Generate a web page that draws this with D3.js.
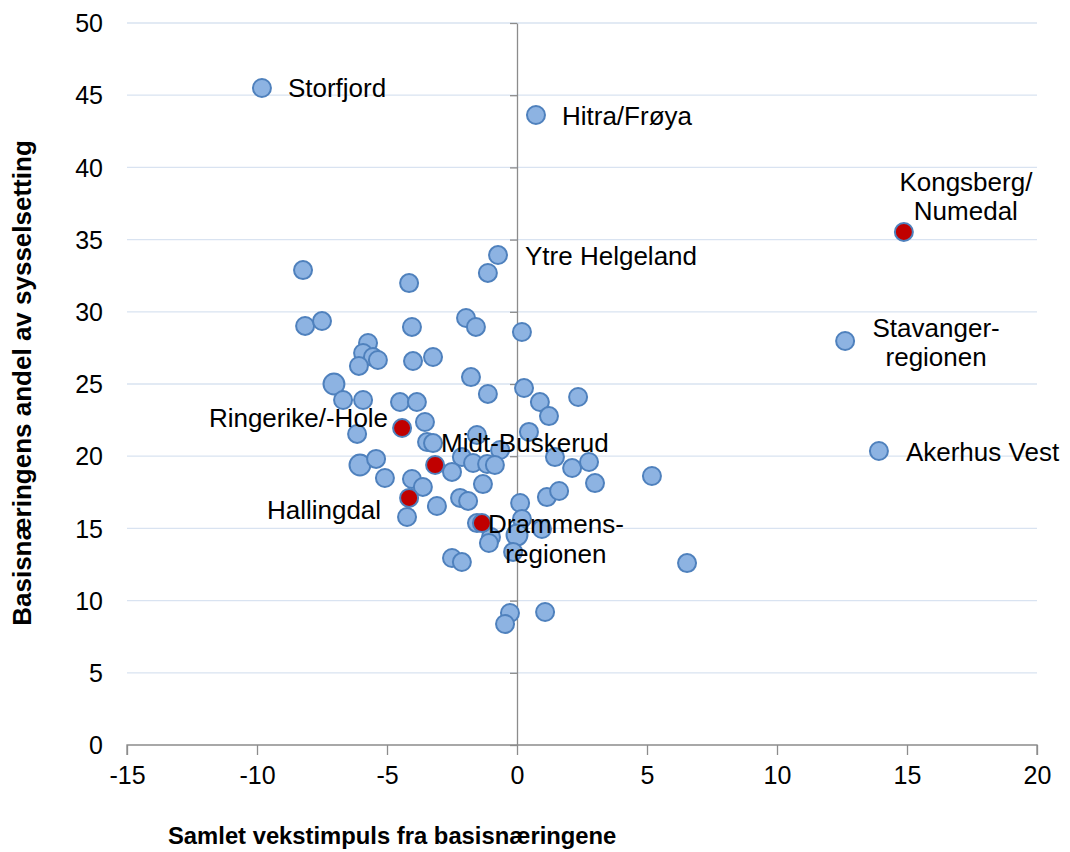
<!doctype html>
<html>
<head>
<meta charset="utf-8">
<style>
    body { margin: 0; background: #fff; font-family: 'Liberation Sans', Arial, sans-serif; }
    svg { display: block; }
    .grid line { stroke: #d9e3f1; stroke-width: 1.3; }
    .axis path, .axis line { stroke: #8c8c8c; stroke-width: 1.3; }
    .axis text { font-size: 25px; fill: #000; font-family: 'Liberation Sans', Arial, sans-serif; }
    .dot { stroke: #4f81bd; stroke-width: 2; }
    text.lbl { font-size: 26px; fill: #000; }
    text.title { font-weight: bold; fill: #000; }
</style>
<script src="https://d3js.org/d3.v7.min.js"></script>
</head>
<body>
<svg width="1070" height="852"></svg>
<script>
    // x = samlet vekstimpuls, y = basisnæringens andel
    const xVals = [-9.81, 0.73, 14.88, 12.62, 13.92, -0.73, -1.12, -8.23, -4.15, -8.15,
                   -7.5, -4.04, -1.96, -1.58, 0.19, -5.73, -5.92, -5.54, -5.35, -6.08,
                   -4.0, -3.23, -7.04, -1.77, -1.12, 0.27, 0.88, 1.23, 2.35, -6.69,
                   -5.92, -4.5, -3.85, -3.54, -4.42, -6.15, -1.54, 0.46, -3.46, -3.23,
                   -2.12, -0.65, -1.69, -1.15, -0.85, -2.5, -3.15, -6.04, -5.42, -5.08,
                   -4.04, -3.62, -4.15, -4.23, -3.08, -2.19, -1.88, -1.31, -1.54, -1.35,
                   -1.0, -1.08, 0.12, 0.19, 0.0, -0.15, 0.96, 1.15, 1.62, 1.46,
                   2.12, 2.77, 3.0, 5.19, 6.54, -2.5, -2.12, -0.27, -0.46, 1.08];
    const yVals = [45.5, 43.63, 35.53, 27.98, 20.36, 33.93, 32.69, 32.89, 31.99, 29.02,
                   29.36, 28.95, 29.57, 28.95, 28.6, 27.84, 27.15, 26.87, 26.66, 26.25,
                   26.59, 26.87, 25.0, 25.48, 24.31, 24.72, 23.75, 22.78, 24.1, 23.89,
                   23.89, 23.75, 23.75, 22.37, 21.95, 21.54, 21.47, 21.68, 20.98, 20.91,
                   19.94, 20.43, 19.53, 19.46, 19.39, 18.91, 19.39, 19.39, 19.81, 18.49,
                   18.42, 17.87, 17.11, 15.79, 16.55, 17.11, 16.9, 18.07, 15.37, 15.37,
                   14.4, 13.99, 16.76, 15.65, 14.54, 13.37, 14.96, 17.17, 17.59, 19.94,
                   19.18, 19.6, 18.14, 18.63, 12.6, 12.95, 12.67, 9.14, 8.38, 9.21];
    // relative weight of each region (a few larger bubbles)
    const weights = xVals.map(() => 1);
    [22, 47, 64].forEach(i => weights[i] = 1.35);

    // highlighted (Buskerud) regions
    const redIdx = [2, 34, 46, 52, 59];

    const labels = [
        {i: 0, lines: ['Storfjord'], anchor: 'start', dx: 26, dy: 0},
        {i: 1, lines: ['Hitra/Frøya'], anchor: 'start', dx: 26, dy: 1},
        {i: 2, lines: ['Kongsberg/', 'Numedal'], anchor: 'middle', dx: 62, dy: -50},
        {i: 3, lines: ['Stavanger-', 'regionen'], anchor: 'middle', dx: 91, dy: -13},
        {i: 4, lines: ['Akerhus Vest'], anchor: 'start', dx: 27, dy: 1},
        {i: 5, lines: ['Ytre Helgeland'], anchor: 'start', dx: 27, dy: 1},
        {i: 34, lines: ['Ringerike/-Hole'], anchor: 'end', dx: -14, dy: -10},
        {i: 46, lines: ['Midt-Buskerud'], anchor: 'start', dx: 6, dy: -22},
        {i: 52, lines: ['Hallingdal'], anchor: 'end', dx: -28, dy: 12},
        {i: 59, lines: ['Drammens-', 'regionen'], anchor: 'middle', dx: 74, dy: 1}
    ];

    const xTicks = [-15, -10, -5, 0, 5, 10, 15, 20];
    const yTicks = [0, 5, 10, 15, 20, 25, 30, 35, 40, 45, 50];

    const svg = d3.select('svg');
    const pLeft = 127, pRight = 1037, pTop = 23, pBottom = 745;

    const x = d3.scaleLinear().domain([-15, 20]).range([pLeft, pRight]);
    const y = d3.scaleLinear().domain([0, 50]).range([pBottom, pTop]);
    const r = d3.scaleSqrt().domain([0, 1]).range([0, 9]);

    // horizontal gridlines
    svg.append('g')
        .attr('class', 'grid')
        .selectAll('line')
        .data(yTicks.filter(d => d > 0))
        .enter()
        .append('line')
        .attr('x1', pLeft)
        .attr('x2', pRight)
        .attr('y1', d => y(d))
        .attr('y2', d => y(d));

    // x axis along y = 0
    const xAxis = svg.append('g')
        .attr('class', 'axis')
        .attr('transform', `translate(0, ${y(0)})`)
        .call(d3.axisBottom(x).tickValues(xTicks).tickSize(10).tickSizeOuter(10).tickPadding(11).tickFormat(d => String(d)));
    xAxis.select('.domain').attr('d', `M${pLeft},10V0H${pRight}V10`);

    // y axis: line through x = 0, labels on the left edge
    const yAxis = svg.append('g')
        .attr('class', 'axis')
        .attr('transform', `translate(${x(0)}, 0)`)
        .call(d3.axisLeft(y).tickValues(yTicks).tickSize(7).tickSizeOuter(0).tickFormat(d => String(d)));
    yAxis.selectAll('.tick text')
        .attr('x', pLeft - x(0) - 24)
        .attr('dy', '0.35em');

    // points
    const pts = xVals.map((v, i) => ({x: v, y: yVals[i], w: weights[i], red: redIdx.includes(i)}));
    const order = pts.filter(d => !d.red).concat(pts.filter(d => d.red));

    svg.append('g')
        .selectAll('circle')
        .data(order)
        .enter()
        .append('circle')
        .attr('class', 'dot')
        .attr('cx', d => x(d.x))
        .attr('cy', d => y(d.y))
        .attr('r', d => r(d.w))
        .attr('fill', d => d.red ? '#c00000' : '#8db3e2');

    // labels
    labels.forEach(l => {
        const t = svg.append('text')
            .attr('class', 'lbl')
            .attr('text-anchor', l.anchor)
            .attr('x', x(xVals[l.i]) + l.dx)
            .attr('y', y(yVals[l.i]) + l.dy);
        l.lines.forEach((s, k) => {
            t.append('tspan')
                .attr('x', x(xVals[l.i]) + l.dx)
                .attr('dy', k === 0 ? '0.35em' : '1.13em')
                .text(s);
        });
    });

    // axis titles
    svg.append('text')
        .attr('class', 'title')
        .style('font-size', '26px')
        .attr('transform', `translate(31, 383) rotate(-90)`)
        .attr('text-anchor', 'middle')
        .text('Basisnæringens andel av sysselsetting');

    svg.append('text')
        .attr('class', 'title')
        .style('font-size', '23.8px')
        .attr('x', 168)
        .attr('y', 844)
        .text('Samlet vekstimpuls fra basisnæringene');
</script>
</body>
</html>
